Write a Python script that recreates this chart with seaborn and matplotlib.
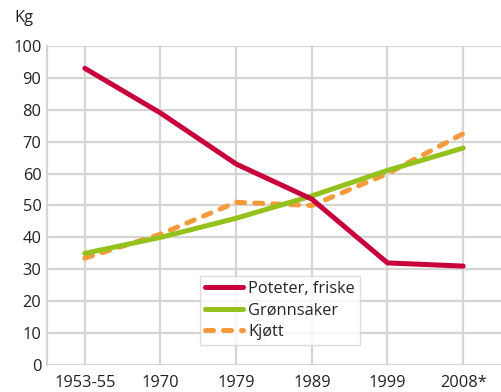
import matplotlib
matplotlib.use("Agg")
import matplotlib.pyplot as plt
import seaborn as sns
import pandas as pd

# Consumption per person (kg) by period
periods = ["1953-55", "1970", "1979", "1989", "1999", "2008*"]
poteter = [93, 79, 63, 52, 32, 31]
gronnsaker = [35, 40, 46, 53, 61, 68]
kjott = [33.5, 41, 51, 50, 60, 72.5]

series_names = ["Poteter, friske", "Grønnsaker", "Kjøtt"]
colors = ["#c8003c", "#94c11c", "#f59a3d"]

rows = []
for name, vals in zip(series_names, [poteter, gronnsaker, kjott]):
    for i, (p, v) in enumerate(zip(periods, vals)):
        rows.append({"x": i, "period": p, "kg": v, "serie": name})
df = pd.DataFrame(rows)

sns.set_style("white")
plt.rcParams["font.family"] = ["Open Sans", "DejaVu Sans"]

fig = plt.figure(figsize=(5.01, 3.92), dpi=100)
ax = fig.add_axes([0.0938, 0.0689, 0.9062, 0.8138])

LW = 3.6
sns.lineplot(
    data=df, x="x", y="kg", hue="serie", style="serie",
    hue_order=series_names, style_order=series_names,
    palette=dict(zip(series_names, colors)),
    dashes={series_names[0]: "", series_names[1]: "", series_names[2]: (1.6, 2.0)},
    linewidth=LW, ax=ax, legend=True,
)
# red on top, orange dashed at the bottom
for line, z in zip(ax.get_lines()[:3], [5, 4, 3]):
    line.set_zorder(z)
for line in ax.get_lines():
    line.set_solid_joinstyle("round")
    line.set_solid_capstyle("round")
    line.set_dash_capstyle("round")
    line.set_dash_joinstyle("round")

ax.set_xlim(-0.5, 5.5)
ax.set_ylim(0, 100)
ax.set_xticks(range(len(periods)))
ax.set_xticklabels(periods)
ax.set_yticks(range(0, 101, 10))
ax.grid(True, color="#d6d5d2", linewidth=1.6, zorder=0)
ax.set_axisbelow(True)
for s in ["top", "right", "bottom"]:
    ax.spines[s].set_visible(False)
ax.spines["left"].set_color("#d6d5d2")
ax.spines["left"].set_linewidth(1.6)
ax.tick_params(axis="y", length=0, labelsize=11.8, colors="#222222", pad=4)
ax.tick_params(axis="x", length=0, labelsize=11.8, colors="#222222", pad=7)
ax.set_xlabel("")
ax.set_ylabel("")
fig.text(0.028, 0.953, "Kg", fontsize=11.8, color="#222222", va="center", ha="left")

leg = ax.legend(
    loc="lower left", bbox_to_anchor=(0.337, 0.063), frameon=True,
    fontsize=11.8, handlelength=2.3, borderpad=0.3, labelspacing=0.35,
    handletextpad=0.35, fancybox=False, borderaxespad=0,
)
leg.get_frame().set_edgecolor("#d6d5d2")
leg.get_frame().set_linewidth(1.0)
for h in leg.get_lines():
    h.set_linewidth(LW)

fig.savefig("out.png", dpi=100)
